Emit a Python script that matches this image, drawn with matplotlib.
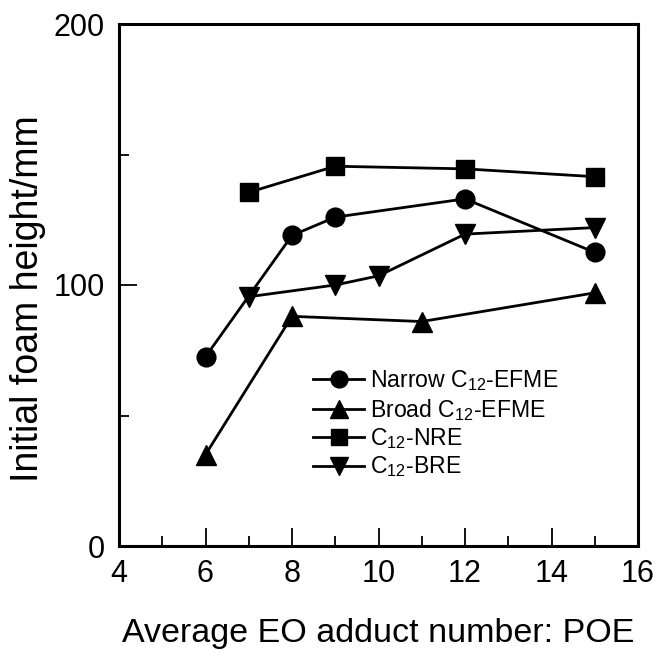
import matplotlib
matplotlib.use("Agg")
import matplotlib.pyplot as plt
from matplotlib.ticker import MultipleLocator

plt.rcParams['font.family'] = ['Liberation Sans', 'DejaVu Sans']
plt.rcParams['mathtext.fontset'] = 'custom'
plt.rcParams['mathtext.rm'] = 'Liberation Sans'
plt.rcParams['mathtext.it'] = 'Liberation Sans'
plt.rcParams['mathtext.bf'] = 'Liberation Sans'

narrow_x = [6, 8, 9, 12, 15]
narrow_y = [72.5, 119, 126, 133, 112.5]
broad_x = [6, 8, 11, 15]
broad_y = [35, 88, 86, 97]
nre_x = [7, 9, 12, 15]
nre_y = [135.5, 145.5, 144.5, 141.5]
bre_x = [7, 9, 10, 12, 15]
bre_y = [95.5, 100, 103.5, 119.5, 122]

labels = [r'Narrow C$_{12}$-EFME', r'Broad C$_{12}$-EFME', r'C$_{12}$-NRE', r'C$_{12}$-BRE']

fig = plt.figure(figsize=(6.55, 6.52), dpi=100)
ax = fig.add_axes([119/655, 106/652, 519/655, 522/652])

kw = dict(color='black', lw=2.0)
ax.plot(narrow_x, narrow_y, marker='o', ms=13.5, label=labels[0], **kw)
ax.plot(broad_x, broad_y, marker='^', ms=14, label=labels[1], **kw)
ax.plot(nre_x, nre_y, marker='s', ms=12.5, label=labels[2], **kw)
ax.plot(bre_x, bre_y, marker='v', ms=14, label=labels[3], **kw)

ax.set_xlim(4, 16)
ax.set_ylim(0, 200)
ax.xaxis.set_major_locator(MultipleLocator(2))
ax.xaxis.set_minor_locator(MultipleLocator(1))
ax.yaxis.set_major_locator(MultipleLocator(100))
ax.yaxis.set_minor_locator(MultipleLocator(50))
ax.tick_params(which='both', direction='in', top=False, right=False, width=1.3, labelsize=22)
ax.tick_params(which='major', length=13)
ax.tick_params(which='minor', length=7.5)
ax.tick_params(axis='x', pad=9)
ax.tick_params(axis='y', pad=10)
for s in ax.spines.values():
    s.set_linewidth(2.2)

ax.set_xlabel('Average EO adduct number: POE', fontsize=24.5)
ax.set_ylabel('Initial foam height/mm', fontsize=27)
ax.xaxis.set_label_coords(0.5, -0.138)
ax.yaxis.set_label_coords(-0.14, 0.473)

leg = ax.legend(loc='upper left', bbox_to_anchor=(0.373, 0.34), frameon=False,
                fontsize=16.6, handlelength=2.25, handletextpad=0.25, labelspacing=0.15,
                borderpad=0, borderaxespad=0, markerscale=0.9)

fig.savefig('out.png', dpi=100)
